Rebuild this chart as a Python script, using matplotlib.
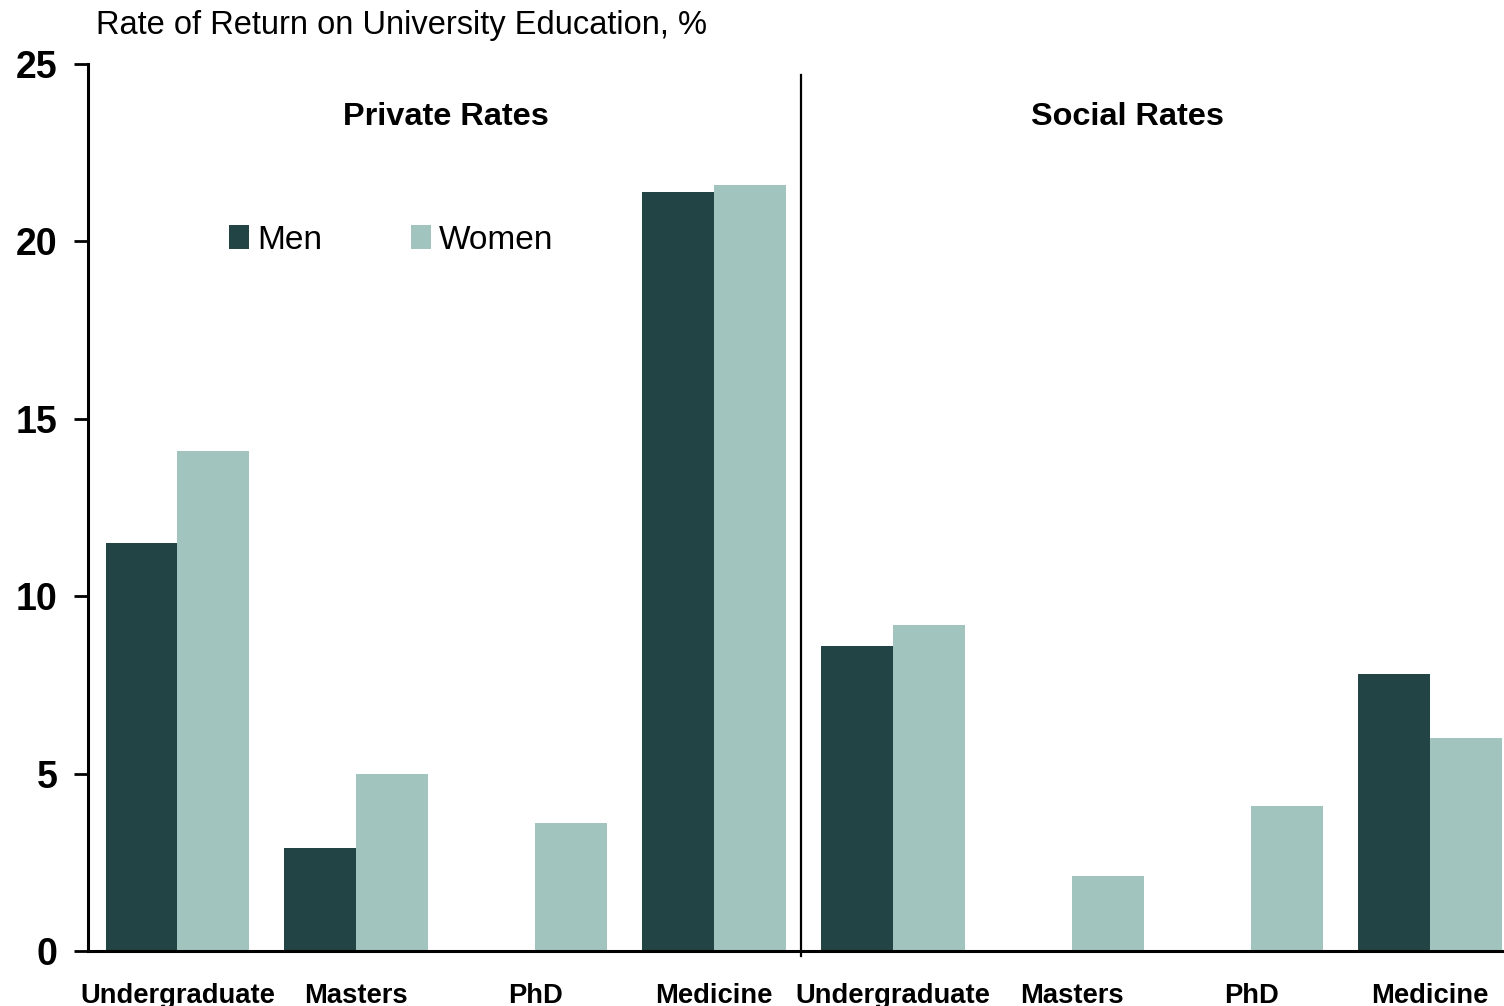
import numpy as np
from matplotlib import pyplot as plt

plt.rcParams["font.family"] = ["Liberation Sans", "DejaVu Sans"]

categories = ["Undergraduate", "Masters", "PhD", "Medicine",
              "Undergraduate", "Masters", "PhD", "Medicine"]
men = [11.5, 2.9, 0.0, 21.4, 8.6, 0.0, 0.0, 7.8]
women = [14.1, 5.0, 3.6, 21.6, 9.2, 2.1, 4.1, 6.0]
yticks = [0, 5, 10, 15, 20, 25]

men_color = "#234444"
women_color = "#a2c4be"

fig = plt.figure(figsize=(15.04, 10.06), dpi=100)
ax = fig.add_axes([0.0585, 0.0547, 0.9415, 0.8817])

x = np.arange(len(categories))
w = 0.402
ax.bar(x - w / 2, men, w, color=men_color, label="Men")
ax.bar(x + w / 2, women, w, color=women_color, label="Women")

ax.set_xlim(-0.5, 7.413)
ax.set_ylim(0, 25)
ax.set_yticks(yticks)
ax.set_yticklabels([str(t) for t in yticks], fontsize=27, fontweight="bold")
ax.set_xticks(x)
ax.set_xticklabels(categories, fontsize=19.7, fontweight="bold")
ax.tick_params(axis="x", length=0, pad=23)
ax.tick_params(axis="y", direction="out", length=10, width=2, pad=12)

for s in ["top", "right"]:
    ax.spines[s].set_visible(False)
ax.spines["left"].set_linewidth(2.2)
ax.spines["bottom"].set_linewidth(2.2)

# divider between private and social
ax.plot([3.486, 3.486], [-0.15, 24.7], color="black", lw=1.6, clip_on=False)

ax.text(1.5, 23.5, "Private Rates", ha="center", va="center",
        fontsize=23.4, fontweight="bold")
ax.text(5.31, 23.5, "Social Rates", ha="center", va="center",
        fontsize=23.4, fontweight="bold")

fig.text(0.064, 0.975, "Rate of Return on University Education, %",
         ha="left", va="center", fontsize=23.5)

ax.legend(loc="upper left", bbox_to_anchor=(0.0904, 0.834), ncol=2,
          frameon=False, fontsize=24, handlelength=0.6, handleheight=0.75,
          handletextpad=0.24, columnspacing=2.65, borderaxespad=0)

fig.savefig("out.png")
plt.close(fig)
